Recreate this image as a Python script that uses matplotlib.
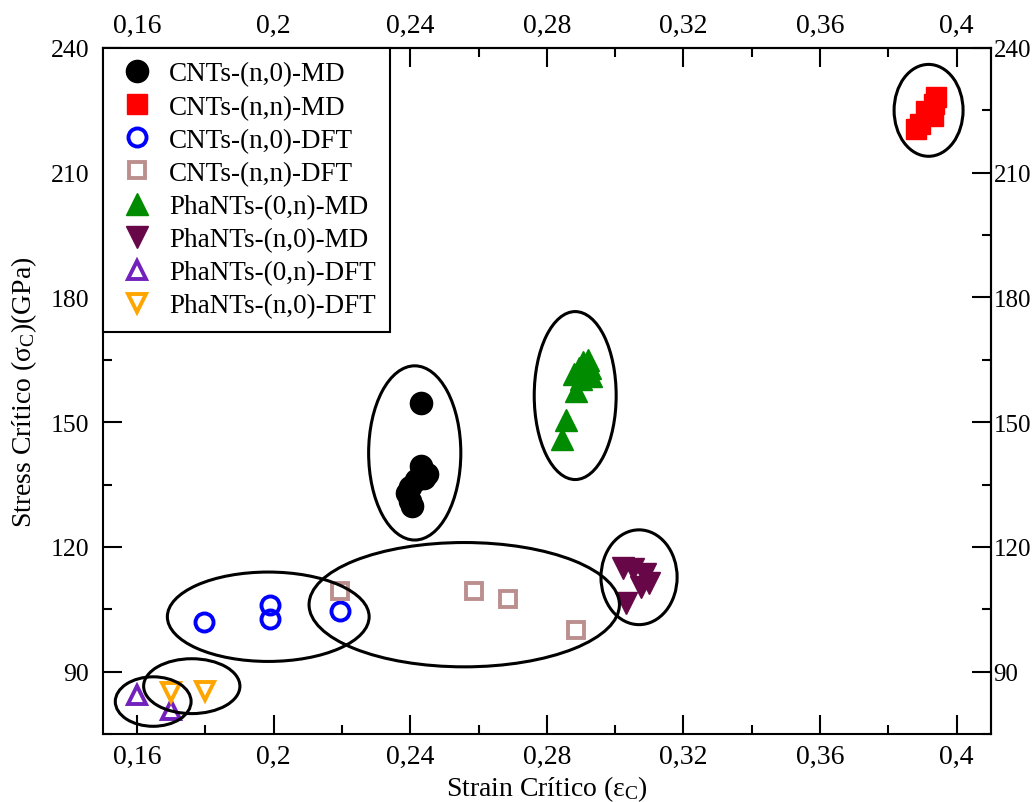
import matplotlib.pyplot as plt
from matplotlib.patches import Ellipse
from matplotlib.ticker import MultipleLocator, FixedLocator, FuncFormatter

plt.rcParams['font.family'] = ['Liberation Serif', 'DejaVu Serif']
plt.rcParams['mathtext.fontset'] = 'custom'
plt.rcParams['mathtext.rm'] = 'Liberation Serif'
plt.rcParams['mathtext.it'] = 'Liberation Serif:italic'

# dados (strain critico, stress critico)
cnt_n0_md_x = [0.2431, 0.2431, 0.2450, 0.2440, 0.2416, 0.2400, 0.2390, 0.2400, 0.2406]
cnt_n0_md_y = [154.6, 139.5, 137.5, 136.5, 136.0, 134.5, 133.0, 131.0, 129.8]

cnt_nn_md_x = [0.3882, 0.3892, 0.3911, 0.3930, 0.3935, 0.3941]
cnt_nn_md_y = [220.5, 221.7, 224.8, 223.6, 226.5, 228.1]

cnt_n0_dft_x = [0.1795, 0.1990, 0.1990, 0.2194]
cnt_n0_dft_y = [102.0, 106.1, 102.7, 104.7]

cnt_nn_dft_x = [0.2194, 0.2587, 0.2687, 0.2885]
cnt_nn_dft_y = [109.3, 109.3, 107.4, 100.0]

pha_0n_md_x = [0.2845, 0.2855, 0.2885, 0.2880, 0.2895, 0.2905, 0.2920, 0.2925, 0.2930, 0.2900]
pha_0n_md_y = [146.0, 150.5, 157.5, 161.5, 163.0, 164.5, 165.0, 163.0, 161.0, 160.5]

pha_n0_md_x = [0.3023, 0.3053, 0.3086, 0.3100, 0.3076, 0.3033]
pha_n0_md_y = [115.0, 114.6, 113.6, 111.2, 110.3, 106.5]

pha_0n_dft_x = [0.1600, 0.1700]
pha_0n_dft_y = [84.3, 80.7]

pha_n0_dft_x = [0.1700, 0.1800]
pha_n0_dft_y = [85.1, 85.3]

# ticks
x_ticks = [0.16, 0.20, 0.24, 0.28, 0.32, 0.36, 0.40]
y_ticks = [90, 120, 150, 180, 210, 240]

# elipses em volta dos grupos: (centro x, centro y, largura, altura)
grupos = [
    (0.2413, 142.6, 0.0270, 41.9),
    (0.2883, 156.4, 0.0240, 40.4),
    (0.3918, 225.0, 0.0202, 22.1),
    (0.3070, 112.7, 0.0223, 22.8),
    (0.2558, 106.1, 0.0909, 29.9),
    (0.1984, 103.2, 0.0591, 21.5),
    (0.1760, 86.5, 0.0282, 13.2),
    (0.1647, 82.8, 0.0222, 11.9),
]

fig = plt.figure(figsize=(10.32, 8.03), dpi=100)
ax = fig.add_axes([0.0998, 0.0847, 0.8602, 0.8543])

ax.plot(cnt_n0_md_x, cnt_n0_md_y, ls='none', marker='o', ms=16, mfc='black', mec='black',
        label='CNTs-(n,0)-MD')
ax.plot(cnt_nn_md_x, cnt_nn_md_y, ls='none', marker='s', ms=14, mfc='red', mec='red',
        label='CNTs-(n,n)-MD')
ax.plot(cnt_n0_dft_x, cnt_n0_dft_y, ls='none', marker='o', ms=13, mfc='none', mec='blue', mew=2.8,
        label='CNTs-(n,0)-DFT')
ax.plot(cnt_nn_dft_x, cnt_nn_dft_y, ls='none', marker='s', ms=12, mfc='none', mec='#bc8f8f', mew=2.8,
        label='CNTs-(n,n)-DFT')
ax.plot(pha_0n_md_x, pha_0n_md_y, ls='none', marker='^', ms=16, mfc='#008b00', mec='#008b00',
        label='PhaNTs-(0,n)-MD')
ax.plot(pha_n0_md_x, pha_n0_md_y, ls='none', marker='v', ms=16, mfc='#670748', mec='#670748',
        label='PhaNTs-(n,0)-MD')
ax.plot(pha_0n_dft_x, pha_0n_dft_y, ls='none', marker='^', ms=13, mfc='none', mec='#7221bc', mew=2.8,
        label='PhaNTs-(0,n)-DFT')
ax.plot(pha_n0_dft_x, pha_n0_dft_y, ls='none', marker='v', ms=13, mfc='none', mec='#ffa500', mew=2.8,
        label='PhaNTs-(n,0)-DFT')

for cx, cy, w, h in grupos:
    ax.add_patch(Ellipse((cx, cy), w, h, fill=False, ec='black', lw=2.2, zorder=5))

ax.set_xlim(0.15, 0.41)
ax.set_ylim(75, 240)

virgula = FuncFormatter(lambda v, p: ('%g' % round(v, 4)).replace('.', ','))


def eixo_x(a):
    a.xaxis.set_major_locator(FixedLocator(x_ticks))
    a.xaxis.set_minor_locator(MultipleLocator(0.02))
    a.xaxis.set_major_formatter(virgula)


def eixo_y(a):
    a.yaxis.set_major_locator(FixedLocator(y_ticks))
    a.yaxis.set_minor_locator(MultipleLocator(15))
    a.yaxis.set_major_formatter(virgula)


eixo_x(ax)
eixo_y(ax)
ax.tick_params(which='both', direction='in', top=False, right=False, width=1.5)
ax.tick_params(axis='x', which='both', pad=7, labelsize=20)
ax.tick_params(axis='y', which='both', pad=10, labelsize=18.5)
ax.tick_params(which='major', length=13.5)
ax.tick_params(which='minor', length=6.5)
for s in ax.spines.values():
    s.set_linewidth(1.5)

topo = ax.secondary_xaxis('top')
eixo_x(topo)
topo.tick_params(which='both', direction='in', width=1.5, labelsize=20, pad=7)
topo.tick_params(which='major', length=13.5)
topo.tick_params(which='minor', length=6.5)
topo.spines['top'].set_linewidth(1.5)

direita = ax.secondary_yaxis('right')
eixo_y(direita)
direita.tick_params(which='both', direction='in', width=1.5, labelsize=18, pad=2)
direita.tick_params(which='major', length=13.5)
direita.tick_params(which='minor', length=6.5)
direita.spines['right'].set_linewidth(1.5)

ax.set_xlabel(r'Strain Crítico ($\mathregular{\varepsilon_C}$)', fontsize=20, labelpad=3)
ax.set_ylabel(r'Stress Crítico ($\mathregular{\sigma_C}$)(GPa)', fontsize=20, labelpad=8)

leg = ax.legend(loc='upper left', borderaxespad=0, fancybox=False, edgecolor='black',
                framealpha=1, fontsize=19.5, labelspacing=0.3, handletextpad=0.45,
                borderpad=0.5, handlelength=1.5)
leg.get_frame().set_linewidth(1.5)
leg.set_zorder(6)

fig.savefig('out.png', dpi=100)
